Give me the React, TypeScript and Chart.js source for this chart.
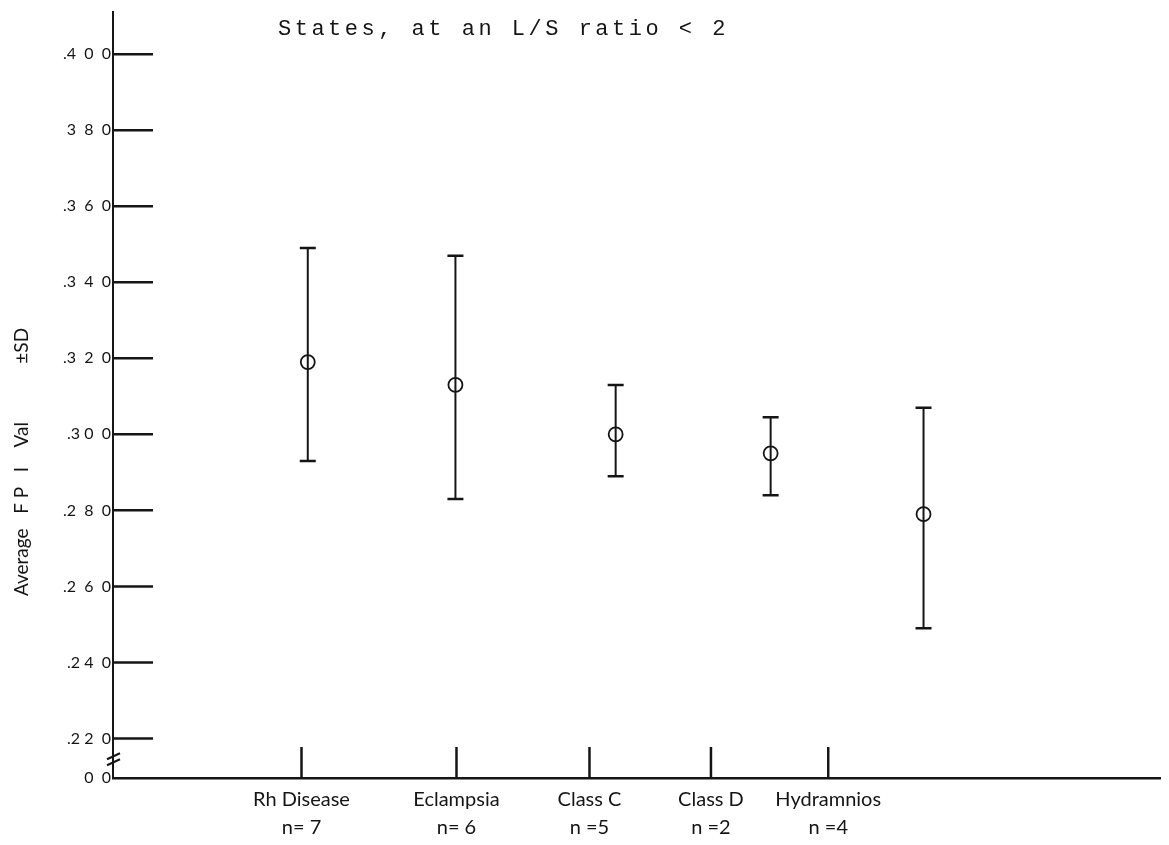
import React, { useEffect, useRef } from "react";
import { Chart, registerables } from "chart.js";

Chart.register(...registerables);

// ---- data ----
const categories = ["Rh Disease", "Eclampsia", "Class C", "Class D", "Hydramnios"];
const sampleSizes = ["n= 7", "n= 6", "n =5", "n =2", "n =4"];
const categoryTickX = [1.8, 3.28, 4.55, 5.71, 6.83];
const pointX = [1.86, 3.27, 4.8, 6.28, 7.74];
const means = [0.319, 0.313, 0.3, 0.295, 0.279];
const upper = [0.349, 0.347, 0.313, 0.3045, 0.307];
const lower = [0.293, 0.283, 0.289, 0.284, 0.249];
const yTickValues = [0.2096, 0.22, 0.24, 0.26, 0.28, 0.3, 0.32, 0.34, 0.36, 0.38, 0.4];
const yTickLabels = ["0  0", ".2 2  0", ".2 4  0", ".2  6  0", ".2  8  0", ".3 0  0", ".3  2  0", ".3  4  0", ".3  6  0", "3  8  0", ".4  0  0"];
const titleText = "States, at an L/S ratio < 2";
const yAxisTitle = "Average   F P   I    Val            \u00B1SD";

const INK = "#151515";

const decorPlugin = {
  id: "decor",
  beforeDatasetsDraw(chart: any) {
    const { ctx } = chart;
    const x = chart.scales.x;
    const y = chart.scales.y;
    ctx.save();
    ctx.strokeStyle = INK;
    ctx.lineCap = "butt";
    // error bars
    for (let i = 0; i < pointX.length; i++) {
      const px = x.getPixelForValue(pointX[i]);
      const pt = y.getPixelForValue(upper[i]);
      const pb = y.getPixelForValue(lower[i]);
      ctx.lineWidth = 2;
      ctx.beginPath();
      ctx.moveTo(px, pt);
      ctx.lineTo(px, pb);
      ctx.stroke();
      ctx.lineWidth = 2.5;
      ctx.beginPath();
      ctx.moveTo(px - 8, pt);
      ctx.lineTo(px + 8, pt);
      ctx.moveTo(px - 8, pb);
      ctx.lineTo(px + 8, pb);
      ctx.stroke();
    }
    ctx.restore();
  },
  afterDraw(chart: any) {
    const { ctx, chartArea } = chart;
    const x = chart.scales.x;
    const y = chart.scales.y;
    ctx.save();
    ctx.strokeStyle = INK;
    ctx.lineWidth = 2.5;
    // y tick marks pointing inward
    for (let i = 1; i < yTickValues.length; i++) {
      const py = y.getPixelForValue(yTickValues[i]);
      ctx.beginPath();
      ctx.moveTo(chartArea.left, py);
      ctx.lineTo(chartArea.left + 40, py);
      ctx.stroke();
    }
    // x tick marks pointing up
    for (let i = 0; i < categoryTickX.length; i++) {
      const px = x.getPixelForValue(categoryTickX[i]);
      ctx.beginPath();
      ctx.moveTo(px, chartArea.bottom);
      ctx.lineTo(px, chartArea.bottom - 31);
      ctx.stroke();
    }
    // axis break
    const yTop = y.getPixelForValue(yTickValues[1]);
    const mid = (yTop + chartArea.bottom) / 2;
    ctx.lineWidth = 2;
    ctx.beginPath();
    ctx.moveTo(chartArea.left - 6, mid + 1);
    ctx.lineTo(chartArea.left + 7, mid - 5);
    ctx.moveTo(chartArea.left - 6, mid + 7);
    ctx.lineTo(chartArea.left + 7, mid + 1);
    ctx.stroke();

    // title
    ctx.fillStyle = INK;
    ctx.font = '22px "Liberation Mono", monospace';
    (ctx as any).letterSpacing = "3.5px";
    ctx.textAlign = "left";
    ctx.textBaseline = "alphabetic";
    ctx.fillText(titleText, chartArea.left + 165, 35);
    (ctx as any).letterSpacing = "0px";

    // y axis title
    ctx.translate(22, 462);
    ctx.rotate(-Math.PI / 2);
    ctx.font = '19px Lato, "Open Sans", sans-serif';
    ctx.textAlign = "center";
    ctx.textBaseline = "middle";
    ctx.fillText(yAxisTitle, 0, 0);
    ctx.restore();
  },
};

export default function App() {
  const ref = useRef<HTMLCanvasElement | null>(null);

  useEffect(() => {
    if (!ref.current) return;
    const chart = new Chart(ref.current, {
      type: "scatter",
      data: {
        datasets: [
          {
            label: "Average",
            data: pointX.map((px, i) => ({ x: px, y: means[i] })),
            pointRadius: 7,
            pointHoverRadius: 7,
            pointBorderWidth: 1.8,
            pointBackgroundColor: "rgba(0,0,0,0)",
            pointBorderColor: INK,
            borderColor: INK,
            showLine: false,
          },
        ],
      },
      options: {
        responsive: false,
        animation: false,
        events: [],
        layout: { padding: { left: 0, right: 4, top: 5, bottom: 0 } },
        plugins: {
          legend: { display: false },
          tooltip: { enabled: false },
          title: { display: false },
        },
        scales: {
          x: {
            type: "linear",
            min: 0,
            max: 10,
            grid: { display: false, drawTicks: false },
            border: { display: true, color: INK, width: 2.5 },
            afterBuildTicks: (scale: any) => {
              scale.ticks = categoryTickX.map((v) => ({ value: v }));
            },
            afterFit: (scale: any) => {
              scale.height = 67;
            },
            ticks: {
              autoSkip: false,
              maxRotation: 0,
              minRotation: 0,
              padding: 8,
              color: INK,
              font: { family: 'Lato, "Open Sans", sans-serif', size: 20, lineHeight: 1.4 },
              callback: (_v: any, i: number) => [categories[i], sampleSizes[i]],
            },
          },
          y: {
            type: "linear",
            min: 0.2096,
            max: 0.4112,
            grid: { display: false, drawTicks: false },
            border: { display: true, color: INK, width: 2 },
            afterBuildTicks: (scale: any) => {
              scale.ticks = yTickValues.map((v) => ({ value: v }));
            },
            afterFit: (scale: any) => {
              scale.width = 113;
            },
            ticks: {
              autoSkip: false,
              padding: 2,
              color: INK,
              font: { family: 'Lato, "Open Sans", sans-serif', size: 16 },
              callback: (_v: any, i: number) => yTickLabels[i],
            },
          },
        },
      },
      plugins: [decorPlugin],
    } as any);
    return () => chart.destroy();
  }, []);

  return (
    <canvas
      ref={ref}
      width={1169}
      height={845}
      style={{ position: "absolute", left: 0, top: 0, width: 1169, height: 845, background: "#fff" }}
    />
  );
}
